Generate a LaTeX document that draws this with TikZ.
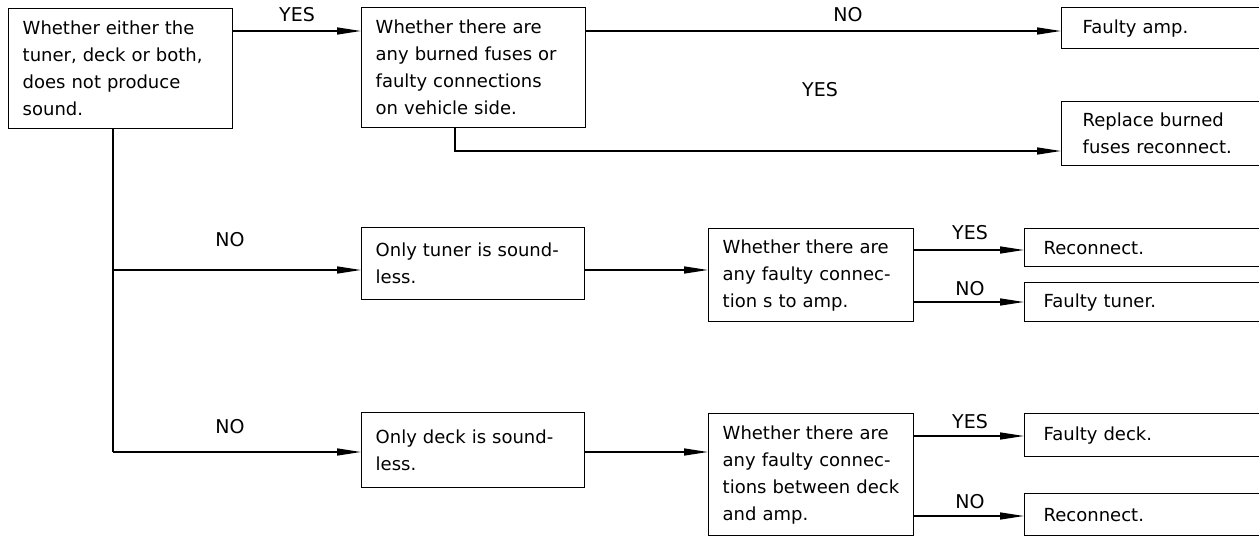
\documentclass[tikz,border=0pt]{standalone}
\usepackage{fontspec}
\setmainfont{DejaVu Sans}
\usetikzlibrary{arrows.meta}
\begin{document}
\begin{tikzpicture}[x=1pt,y=-1pt,
 box/.style={draw, line width=1.4pt, anchor=north west, inner xsep=14pt, inner ysep=0pt, align=left, font=\fontsize{18}{27}\selectfont},
 rbox/.style={box, inner xsep=19pt, text width=220pt, minimum width=258pt},
 lbl/.style={font=\fontsize{19}{22}\selectfont, inner sep=0pt},
 conn/.style={line width=1.4pt},
 arr/.style={conn, -{Triangle[length=24pt,width=7pt]}}]
\clip (0,0) rectangle (1259,537);
% nodes
\node[box, minimum width=224pt, minimum height=120pt, text width=196pt] (A) at (8,8)
  {Whether either the\\tuner, deck or both,\\does not produce\\sound.};
\node[box, minimum width=224pt, minimum height=120pt, text width=196pt] (B) at (361,7)
  {Whether there are\\any burned fuses or\\faulty connections\\on vehicle side.};
\node[rbox, inner xsep=21pt, minimum height=41pt] (amp) at (1061,7) {Faulty amp.};
\node[rbox, inner xsep=21pt, minimum height=64pt] (rep) at (1061,101) {Replace burned\\fuses reconnect.};
\node[box, minimum width=223pt, minimum height=72pt, text width=195pt] (tuner) at (361,227)
  {Only tuner is sound-\\less.};
\node[box, minimum width=223pt, minimum height=75pt, text width=195pt] (deck) at (361,412)
  {Only deck is sound-\\less.};
\node[box, minimum width=205pt, minimum height=93pt, text width=177pt] (C) at (708,228)
  {Whether there are\\any faulty connec-\\tion s to amp.};
\node[box, minimum width=205pt, minimum height=122pt, text width=177pt] (D) at (708,413)
  {Whether there are\\any faulty connec-\\tions between deck\\and amp.};
\node[rbox, minimum height=38pt] (rec1) at (1024,228) {Reconnect.};
\node[rbox, minimum height=39pt] (ftun) at (1024,282) {Faulty tuner.};
\node[rbox, minimum height=43pt] (fdeck) at (1024,413) {Faulty deck.};
\node[rbox, minimum height=42pt] (rec2) at (1024,493) {Reconnect.};
% labels
\node[lbl] (l1) at (297,15) {YES};
\node[lbl] (l2) at (848,15) {NO};
\node[lbl] (l3) at (820,90) {YES};
\node[lbl] (l4) at (230,240) {NO};
\node[lbl] (l5) at (230,427) {NO};
\node[lbl] (l6) at (970,233) {YES};
\node[lbl] (l7) at (970,289) {NO};
\node[lbl] (l8) at (970,422) {YES};
\node[lbl] (l9) at (970,502) {NO};
% junction coordinates
\coordinate (a1) at (232,31);
\coordinate (b1) at (585,31);
\coordinate (b2) at (455,127);
\coordinate (b3) at (455,151);
\coordinate (j0) at (113,128);
\coordinate (j1) at (113,270);
\coordinate (j2) at (113,452);
\coordinate (t1) at (584,270);
\coordinate (d1) at (584,452);
\coordinate (c1) at (913,250);
\coordinate (c2) at (913,302);
\coordinate (e1) at (913,436);
\coordinate (e2) at (913,516);
% connectors
\draw[arr] (a1) -- (a1 -| B.west);
\draw[arr] (b1) -- (b1 -| amp.west);
\draw[arr] (b2) -- (b3) -- (b3 -| rep.west);
\draw[conn] (j0) -- (j2);
\draw[arr] (j1) -- (j1 -| tuner.west);
\draw[arr] (j2) -- (j2 -| deck.west);
\draw[arr] (t1) -- (t1 -| C.west);
\draw[arr] (d1) -- (d1 -| D.west);
\draw[arr] (c1) -- (c1 -| rec1.west);
\draw[arr] (c2) -- (c2 -| ftun.west);
\draw[arr] (e1) -- (e1 -| fdeck.west);
\draw[arr] (e2) -- (e2 -| rec2.west);
\end{tikzpicture}
\end{document}
